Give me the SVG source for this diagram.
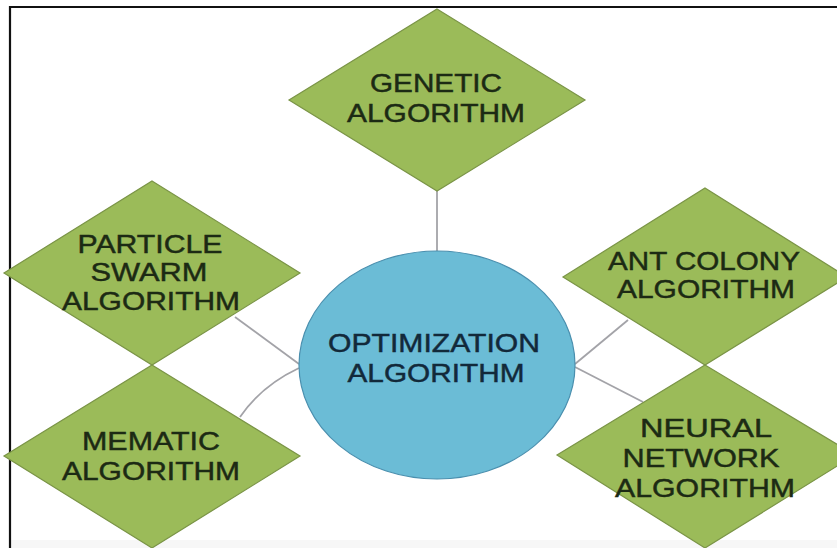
<svg xmlns="http://www.w3.org/2000/svg" width="837" height="548" viewBox="0 0 837 548">
<style>
.dia{fill:#9BBB59;stroke:#7A9446;stroke-width:1.2}
.ell{fill:#6BBCD6;stroke:#4A8FAE;stroke-width:1.2}
.con{fill:none;stroke:#A3A3A8;stroke-width:1.8}
.t{font-family:"Liberation Sans",Arial,sans-serif;font-size:25px;fill:#1C2A14;stroke:#1C2A14;stroke-width:0.45;text-anchor:middle}
.tc{fill:#12293A;stroke:#12293A}
</style>
<rect x="0" y="0" width="837" height="548" fill="#FFFFFF"/>
<rect x="10" y="540" width="827" height="8" fill="#F7F7F7"/>
<path d="M10,548 V7 H837" fill="none" stroke="#111" stroke-width="2.2"/>
<g id="connectors">
<line class="con" x1="437" y1="190" x2="437" y2="251"/>
<line class="con" x1="235" y1="317" x2="299" y2="364"/>
<path class="con" d="M240,417 Q261,386 299,368"/>
<line class="con" x1="628" y1="320" x2="575" y2="364"/>
<line class="con" x1="575" y1="367" x2="643" y2="402"/>
</g>
<g id="genetic">
<polygon class="dia" points="437,9 585,100 437,191 289,100"/>
<text class="t" x="436" y="92" textLength="132" lengthAdjust="spacingAndGlyphs">GENETIC</text>
<text class="t" x="436" y="122" textLength="178" lengthAdjust="spacingAndGlyphs">ALGORITHM</text>
</g>
<g id="particle">
<polygon class="dia" points="152,181 300,273 152,365 4,273"/>
<text class="t" x="150" y="253" textLength="145" lengthAdjust="spacingAndGlyphs">PARTICLE</text>
<text class="t" x="149" y="281" textLength="117" lengthAdjust="spacingAndGlyphs">SWARM</text>
<text class="t" x="151" y="310" textLength="178" lengthAdjust="spacingAndGlyphs">ALGORITHM</text>
</g>
<g id="memetic">
<polygon class="dia" points="152,365 300,456 152,548 4,456"/>
<text class="t" x="151" y="450" textLength="138" lengthAdjust="spacingAndGlyphs">MEMATIC</text>
<text class="t" x="151" y="480" textLength="178" lengthAdjust="spacingAndGlyphs">ALGORITHM</text>
</g>
<g id="antcolony">
<polygon class="dia" points="705,188 847,277 705,365 563,277"/>
<text class="t" x="704" y="270" textLength="192" lengthAdjust="spacingAndGlyphs">ANT COLONY</text>
<text class="t" x="706" y="298" textLength="178" lengthAdjust="spacingAndGlyphs">ALGORITHM</text>
</g>
<g id="neural">
<polygon class="dia" points="705,365 855,455 705,548 557,455"/>
<text class="t" x="706" y="437" textLength="132" lengthAdjust="spacingAndGlyphs">NEURAL</text>
<text class="t" x="701" y="467" textLength="157" lengthAdjust="spacingAndGlyphs">NETWORK</text>
<text class="t" x="705" y="497" textLength="180" lengthAdjust="spacingAndGlyphs">ALGORITHM</text>
</g>
<g id="optimization">
<ellipse class="ell" cx="437" cy="365" rx="138" ry="114"/>
<text class="t tc" x="434" y="352" textLength="212" lengthAdjust="spacingAndGlyphs">OPTIMIZATION</text>
<text class="t tc" x="436" y="382" textLength="177" lengthAdjust="spacingAndGlyphs">ALGORITHM</text>
</g>
</svg>
